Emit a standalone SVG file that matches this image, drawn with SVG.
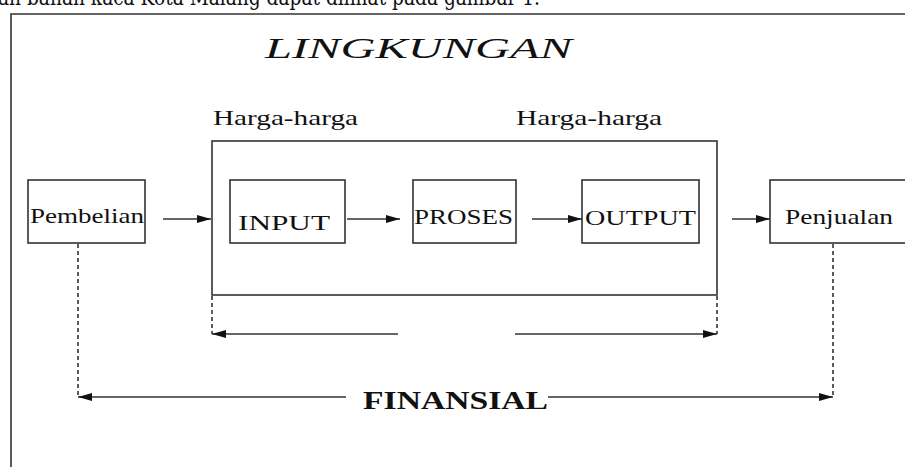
<svg xmlns="http://www.w3.org/2000/svg" width="905" height="467" viewBox="0 0 905 467">
<style>
.ln{stroke:#333;stroke-width:1.6;fill:none}
.dash{stroke:#333;stroke-width:1.6;fill:none;stroke-dasharray:4 3}
.box{stroke:#333;stroke-width:1.6;fill:#fff}
.t{font-family:"Liberation Serif","Times New Roman",serif;fill:#111}
</style>
<defs>
<marker id="ah" viewBox="0 0 14 8" refX="14" refY="4" markerWidth="14" markerHeight="8" orient="auto" markerUnits="userSpaceOnUse"><path d="M0,0 L14,4 L0,8 z" fill="#111"/></marker>
</defs>
<rect width="905" height="467" fill="#fff"/>
<text class="t" x="-2" y="5" font-size="22" textLength="542" lengthAdjust="spacingAndGlyphs" style="font-family:'DejaVu Serif','Liberation Serif',serif">an bahan kaca Kota Malang dapat dilihat pada gambar 1.</text>
<g id="frame"><path class="ln" d="M11,470 V14 H910"/></g>
<g id="lingkungan"><text class="t" x="265" y="58" font-size="30" font-style="italic" textLength="307" lengthAdjust="spacingAndGlyphs">LINGKUNGAN</text></g>
<g id="harga1"><text class="t" x="213" y="125" font-size="22" textLength="145" lengthAdjust="spacingAndGlyphs">Harga-harga</text></g>
<g id="harga2"><text class="t" x="516" y="125" font-size="22" textLength="146" lengthAdjust="spacingAndGlyphs">Harga-harga</text></g>
<g id="proses-box"><rect class="box" x="212" y="141" width="505" height="154"/></g>
<g id="pembelian"><rect class="box" x="28" y="180" width="117" height="63"/><text class="t" x="30" y="223" font-size="21" textLength="114" lengthAdjust="spacingAndGlyphs">Pembelian</text></g>
<g id="input"><rect class="box" x="230" y="180" width="115" height="63"/><text class="t" x="238" y="230" font-size="21" textLength="92" lengthAdjust="spacingAndGlyphs">INPUT</text></g>
<g id="proses"><rect class="box" x="413" y="180" width="103" height="63"/><text class="t" x="414" y="224" font-size="21" textLength="99" lengthAdjust="spacingAndGlyphs">PROSES</text></g>
<g id="output"><rect class="box" x="582" y="180" width="117" height="63"/><text class="t" x="585" y="225" font-size="21" textLength="111" lengthAdjust="spacingAndGlyphs">OUTPUT</text></g>
<g id="penjualan"><rect class="box" x="770" y="180" width="145" height="63"/><text class="t" x="785" y="224" font-size="21" textLength="108" lengthAdjust="spacingAndGlyphs">Penjualan</text></g>
<g id="finansial"><text class="t" x="363" y="409" font-size="25" font-weight="bold" textLength="185" lengthAdjust="spacingAndGlyphs">FINANSIAL</text></g>
<g id="connectors">
<line class="ln" x1="163" y1="219" x2="211" y2="219" marker-end="url(#ah)"/>
<line class="ln" x1="347" y1="219" x2="400" y2="219" marker-end="url(#ah)"/>
<line class="ln" x1="532" y1="219" x2="582" y2="219" marker-end="url(#ah)"/>
<line class="ln" x1="732" y1="219" x2="770" y2="219" marker-end="url(#ah)"/>
<line class="dash" x1="212" y1="296" x2="212" y2="334"/>
<line class="dash" x1="717" y1="296" x2="717" y2="334"/>
<line class="ln" x1="398" y1="334" x2="212" y2="334" marker-end="url(#ah)"/>
<line class="ln" x1="515" y1="334" x2="717" y2="334" marker-end="url(#ah)"/>
<line class="dash" x1="78" y1="244" x2="78" y2="397"/>
<line class="dash" x1="833" y1="244" x2="833" y2="397"/>
<line class="ln" x1="346" y1="397" x2="78" y2="397" marker-end="url(#ah)"/>
<line class="ln" x1="548" y1="397" x2="833" y2="397" marker-end="url(#ah)"/>
</g>
</svg>
